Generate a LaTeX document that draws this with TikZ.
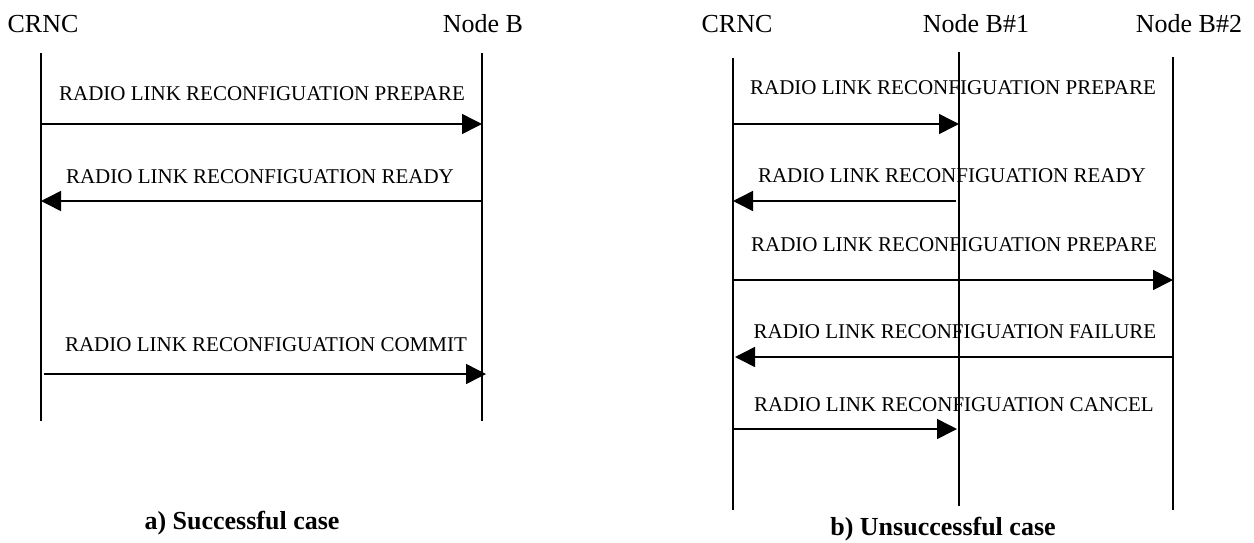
\documentclass[tikz,border=0pt]{standalone}
\usepackage{fontspec}
\setmainfont{Liberation Serif}
\usetikzlibrary{arrows.meta}
\begin{document}
\begin{tikzpicture}[x=1pt,y=-1pt,
  lifeline/.style={line width=1.5pt},
  msg/.style={line width=1.5pt,-{Triangle[length=20pt,width=20pt]}},
  msglabel/.style={anchor=base,inner sep=0pt,font=\fontsize{21}{21}\selectfont},
  header/.style={anchor=base,inner sep=0pt,font=\fontsize{26}{26}\selectfont},
  caption/.style={anchor=base,inner sep=0pt,font=\fontsize{26}{26}\selectfont\bfseries}]
\useasboundingbox (0,0) rectangle (1254,542);
% ---------- a) successful ----------
\node[header] (hA1) at (43,32) {CRNC};
\node[header] (hA2) at (483,32) {Node B};
\coordinate (a1t) at (41,53);  \coordinate (a1b) at (41,421);
\coordinate (a2t) at (482,53); \coordinate (a2b) at (482,421);
\draw[lifeline] (a1t) -- (a1b);
\draw[lifeline] (a2t) -- (a2b);
\coordinate (am1) at (0,124);
\coordinate (am2) at (0,201);
\coordinate (am3) at (0,374);
\node[msglabel] (la1) at (262,100) {RADIO LINK RECONFIGUATION PREPARE};
\draw[msg] (a1t |- am1) -- (a2t |- am1);
\node[msglabel] (la2) at (260,183) {RADIO LINK RECONFIGUATION READY};
\draw[msg] (a2t |- am2) -- (a1t |- am2);
\node[msglabel] (la3) at (266,351) {RADIO LINK RECONFIGUATION COMMIT};
\draw[msg] ([xshift=3pt]a1t |- am3) -- ([xshift=4pt]a2t |- am3);
\node[caption] (capA) at (242,529) {a) Successful case};
% ---------- b) unsuccessful ----------
\node[header] (hB1) at (737,32) {CRNC};
\node[header] (hB2) at (976,32) {Node B\#1};
\node[header] (hB3) at (1189,32) {Node B\#2};
\coordinate (b1t) at (733,58);  \coordinate (b1b) at (733,510);
\coordinate (b2t) at (959,52);  \coordinate (b2b) at (959,506);
\coordinate (b3t) at (1173,57); \coordinate (b3b) at (1173,510);
\draw[lifeline] (b1t) -- (b1b);
\draw[lifeline] (b2t) -- (b2b);
\draw[lifeline] (b3t) -- (b3b);
\coordinate (bm1) at (0,124);
\coordinate (bm2) at (0,201);
\coordinate (bm3) at (0,280);
\coordinate (bm4) at (0,357);
\coordinate (bm5) at (0,429);
\node[msglabel] (lb1) at (953,94) {RADIO LINK RECONFIGUATION PREPARE};
\draw[msg] (b1t |- bm1) -- (b2t |- bm1);
\node[msglabel] (lb2) at (952,182) {RADIO LINK RECONFIGUATION READY};
\draw[msg] ([xshift=-3pt]b2t |- bm2) -- (b1t |- bm2);
\node[msglabel] (lb3) at (954,251) {RADIO LINK RECONFIGUATION PREPARE};
\draw[msg] (b1t |- bm3) -- (b3t |- bm3);
\node[msglabel] (lb4) at (955,338) {RADIO LINK RECONFIGUATION FAILURE};
\draw[msg] (b3t |- bm4) -- ([xshift=2pt]b1t |- bm4);
\node[msglabel] (lb5) at (954,411) {RADIO LINK RECONFIGUATION CANCEL};
\draw[msg] (b1t |- bm5) -- ([xshift=-2pt]b2t |- bm5);
\node[caption] (capB) at (943,535.5) {b) Unsuccessful case};
\end{tikzpicture}
\end{document}
